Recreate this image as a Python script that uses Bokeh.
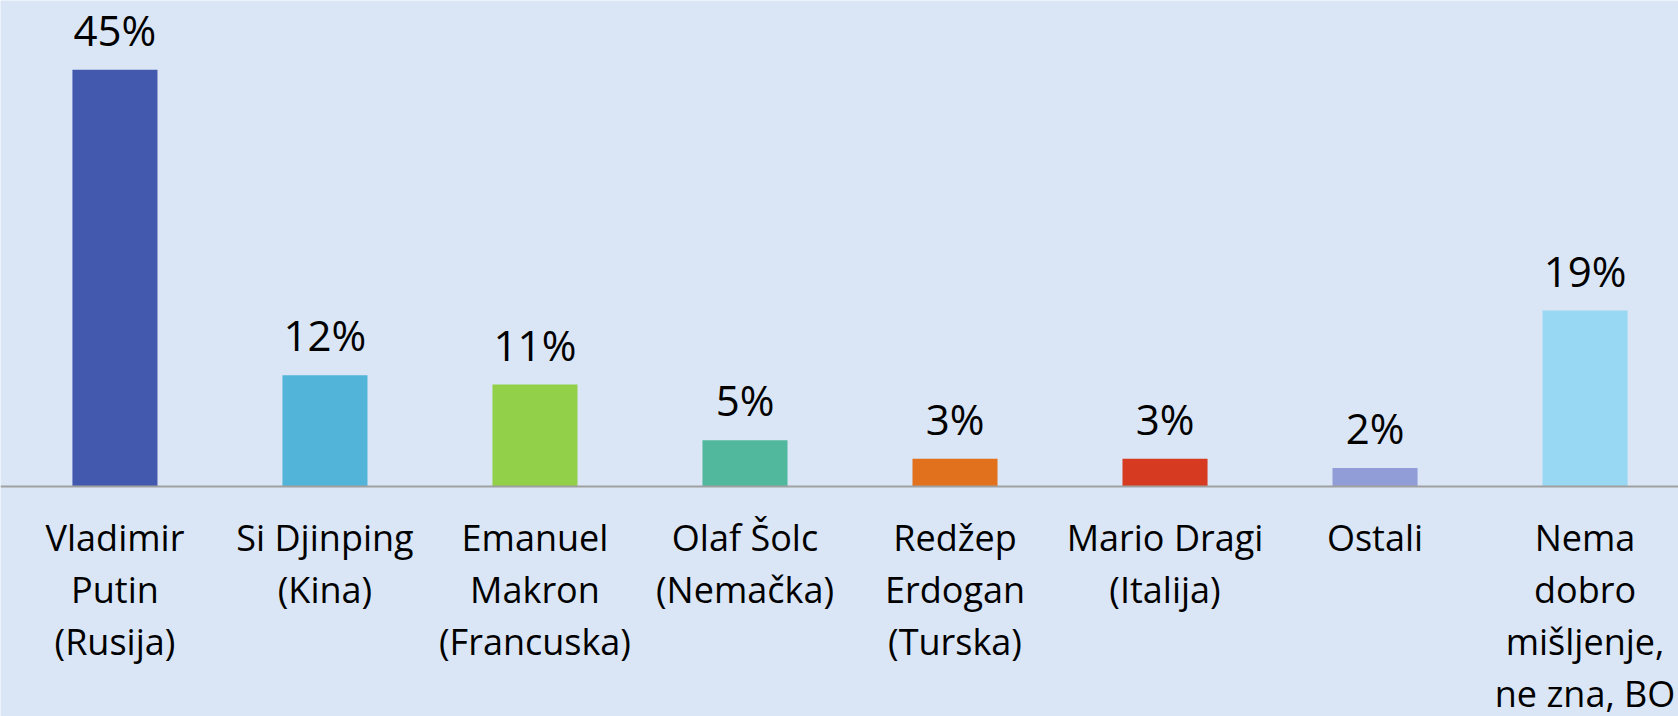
from bokeh.plotting import figure
from bokeh.models import ColumnDataSource, Range1d, Span
from bokeh.core.properties import value
from bokeh.embed import file_html
from bokeh.resources import INLINE

categories = ["Vladimir\nPutin\n(Rusija)", "Si Djinping\n(Kina)", "Emanuel\nMakron\n(Francuska)",
              "Olaf Šolc\n(Nemačka)", "Redžep\nErdogan\n(Turska)", "Mario Dragi\n(Italija)",
              "Ostali", "Nema\ndobro\nmišljenje,\nne zna, BO"]
values = [45, 12, 11, 5, 3, 3, 2, 19]
colors = ["#4359AE", "#52B4D8", "#92D04A", "#51B89E", "#E1711D", "#D63A21", "#919DD7", "#98D8F2"]

xs = list(range(len(categories)))
labels = [f"{v}%" for v in values]
zeros = [0] * len(values)

src = ColumnDataSource(dict(x=xs, top=values, color=colors, lab=labels, cat=categories, zero=zeros))

FONT = "Open Sans"
BG = "#DAE6F5"

p = figure(width=1678, height=716, output_backend="svg", toolbar_location=None,
           x_range=Range1d(-0.545, 7.445), y_range=Range1d(-24.84, 52.48),
           min_border=0, min_border_left=0, min_border_right=0,
           min_border_top=0, min_border_bottom=0)
p.background_fill_color = BG
p.border_fill_color = BG
p.outline_line_color = None
p.xaxis.visible = False
p.yaxis.visible = False
p.xgrid.visible = False
p.ygrid.visible = False

p.vbar(x="x", top="top", bottom=0, width=0.405, fill_color="color", line_color=None, source=src)

p.add_layout(Span(location=0, dimension="width", line_color="#A0A0A0", line_width=2))

p.text(x="x", y="top", text="lab", source=src, text_align="center", text_baseline="bottom",
       y_offset=-12, text_font=value(FONT), text_font_size="42px", text_color="#000000")

p.text(x="x", y="zero", text="cat", source=src, text_align="center", text_baseline="top",
       y_offset=27, text_font=value(FONT), text_font_size="36px", text_color="#000000",
       text_line_height=1.06)

open("out.html", "w").write(file_html(p, INLINE))
